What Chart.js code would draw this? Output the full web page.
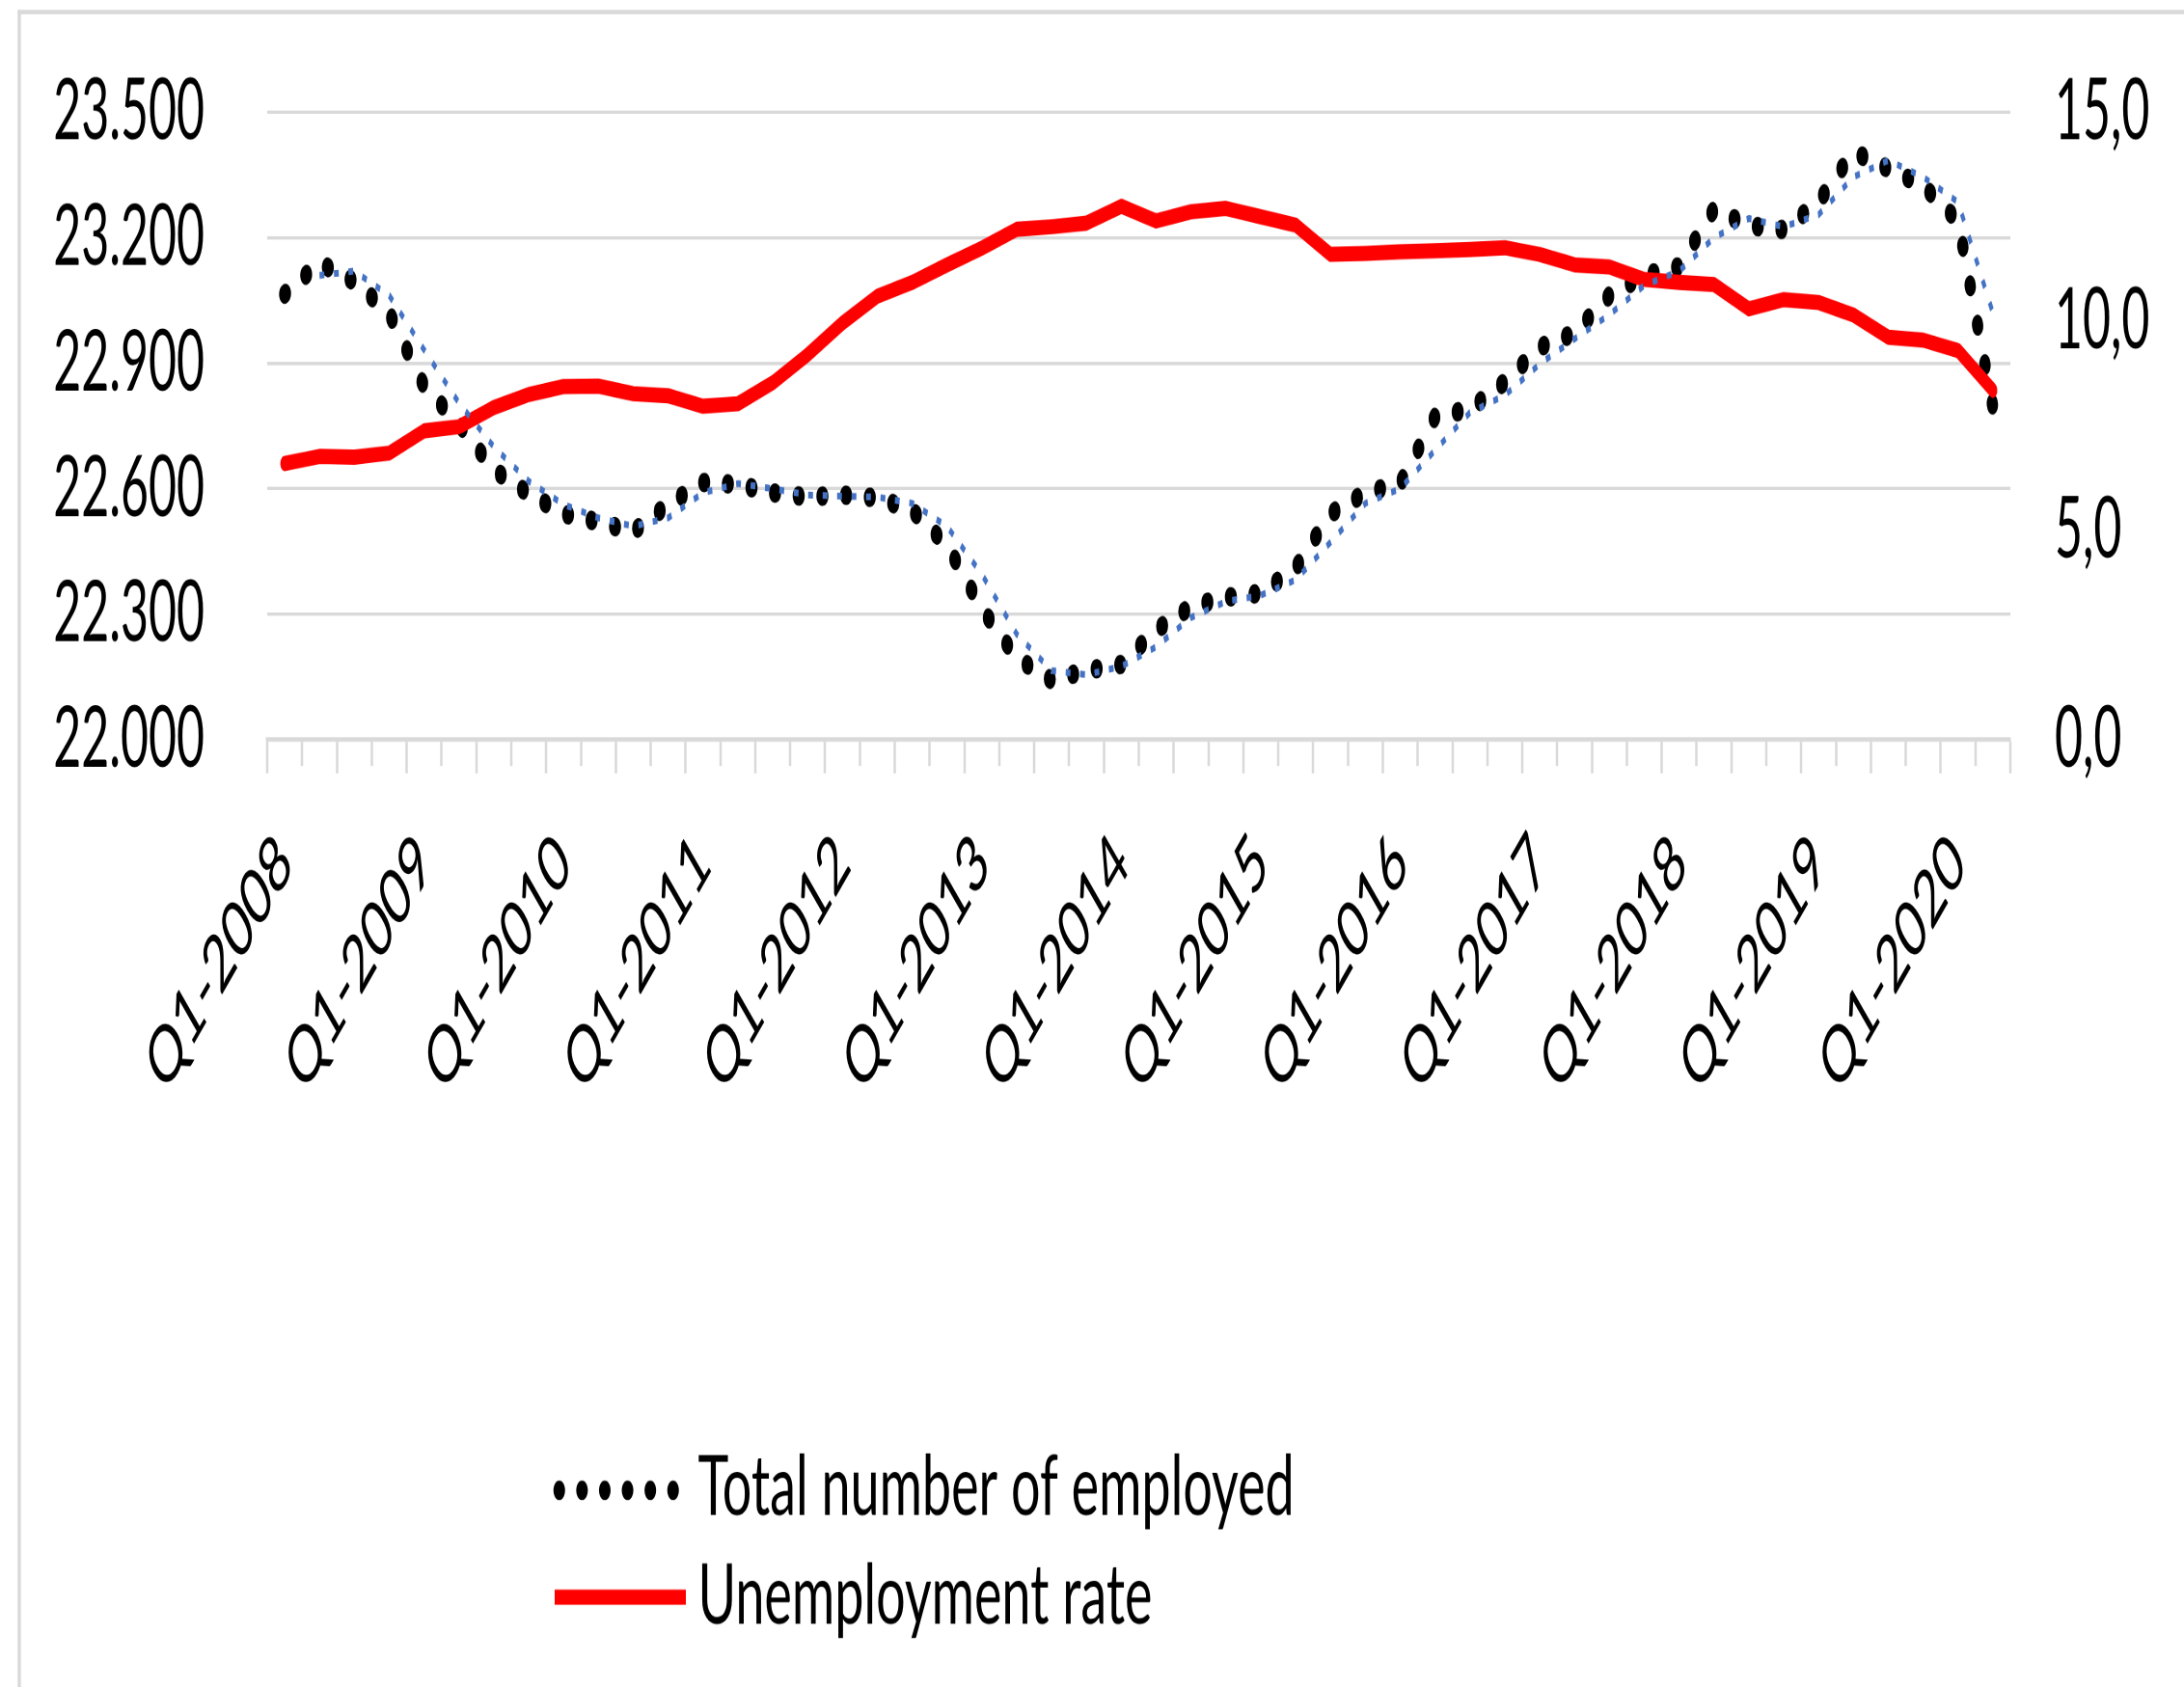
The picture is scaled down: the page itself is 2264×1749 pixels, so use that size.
<!DOCTYPE html>
<html>
<head>
<meta charset="utf-8">
<title>Employment and unemployment, Q1-2008 – Q2-2020</title>
<script src="https://cdn.jsdelivr.net/npm/chart.js@4.4.1/dist/chart.umd.min.js"></script>
<style>
  html, body { margin: 0; padding: 0; background: #ffffff; overflow: hidden; }
  /* the drawing is laid out on a 2264 x 1000 canvas and stretched to full height */
  #frame { position: absolute; left: 0; top: 0; width: 2264px; height: 1000px; transform: scaleY(1.749); transform-origin: 0 0; }
  #chart { display: block; }
</style>
</head>
<body>
<div id="frame"><canvas id="chart" width="2264" height="1000"></canvas></div>
<script>
// Quarter categories
const quarters = [
  'Q1-2008','Q2-2008','Q3-2008','Q4-2008',
  'Q1-2009','Q2-2009','Q3-2009','Q4-2009',
  'Q1-2010','Q2-2010','Q3-2010','Q4-2010',
  'Q1-2011','Q2-2011','Q3-2011','Q4-2011',
  'Q1-2012','Q2-2012','Q3-2012','Q4-2012',
  'Q1-2013','Q2-2013','Q3-2013','Q4-2013',
  'Q1-2014','Q2-2014','Q3-2014','Q4-2014',
  'Q1-2015','Q2-2015','Q3-2015','Q4-2015',
  'Q1-2016','Q2-2016','Q3-2016','Q4-2016',
  'Q1-2017','Q2-2017','Q3-2017','Q4-2017',
  'Q1-2018','Q2-2018','Q3-2018','Q4-2018',
  'Q1-2019','Q2-2019','Q3-2019','Q4-2019',
  'Q1-2020','Q2-2020'
];

// Total number of employed (thousands)
const employed = [
  23065, 23140, 23095, 23020, 22845, 22755, 22645, 22588, 22540, 22520,
  22497, 22562, 22615, 22610, 22590, 22580, 22585, 22578, 22548, 22465,
  22313, 22195, 22142, 22165, 22180, 22262, 22318, 22340, 22350, 22410,
  22540, 22590, 22612, 22772, 22790, 22855, 22938, 22972, 23062, 23110,
  23131, 23268, 23229, 23219, 23286, 23405, 23365, 23324, 23240, 22795
];

// Two-quarter moving average of employed (trend line, starts at the 2nd quarter)
const employedTrend = [
  null,  23110, 23120, 23062, 22932, 22805, 22700, 22618, 22562, 22530,
  22510, 22530, 22590, 22612, 22600, 22585, 22582, 22580, 22565, 22510,
  22395, 22252, 22165, 22155, 22175, 22222, 22292, 22330, 22345, 22382,
  22472, 22565, 22600, 22692, 22782, 22823, 22898, 22958, 23016, 23086,
  23120, 23200, 23246, 23226, 23255, 23345, 23385, 23345, 23285, 23020
];

// Unemployment rate (%)
const unemploymentRate = [
  6.6, 6.77, 6.75, 6.85, 7.38, 7.48, 7.94, 8.25, 8.44, 8.45,
  8.27, 8.22, 7.97, 8.03, 8.53, 9.2, 9.96, 10.6, 10.93, 11.35,
  11.75, 12.2, 12.26, 12.35, 12.75, 12.4, 12.62, 12.7, 12.5, 12.3,
  11.6, 11.62, 11.66, 11.69, 11.72, 11.76, 11.6, 11.35, 11.3, 11.0,
  10.93, 10.88, 10.3, 10.52, 10.45, 10.15, 9.62, 9.55, 9.3, 8.35
];

// Axis tick settings
const leftAxisMin = 22000, leftAxisMax = 23500, leftAxisStep = 300;
const rightAxisMin = 0, rightAxisMax = 15, rightAxisStep = 5;
const labelEvery = 4;

const seriesNames = ['Total number of employed', 'Unemployment rate', '2 per. Mov. Avg. (Total number of employed)'];

const CANVAS_W = 2264;
const CANVAS_H = 1000;
const GRID = '#d9d9d9';

function thousandsDot(v) {
  return String(Math.round(v)).replace(/\B(?=(\d{3})+(?!\d))/g, '.');
}
function decimalComma(v) {
  return Number(v).toFixed(1).replace('.', ',');
}

Chart.defaults.font.family = 'Lato';
Chart.defaults.color = '#000000';

// Outer frame and a two-row legend drawn beneath the axis labels
const frameAndLegend = {
  id: 'frameAndLegend',
  afterDraw(chart) {
    const ctx = chart.ctx;
    ctx.save();
    ctx.fillStyle = GRID;
    ctx.fillRect(18.3, 5.8, 3.4, CANVAS_H);
    ctx.fillRect(18.3, 5.8, CANVAS_W, 2.6);

    const rows = [
      { index: 0, y: 883.4, base: 898 },
      { index: 1, y: 946.8, base: 962.5 }
    ];
    rows.forEach(r => {
      const ds = chart.data.datasets[r.index];
      ctx.save();
      ctx.strokeStyle = ds.borderColor;
      ctx.lineWidth = ds.borderWidth;
      ctx.beginPath();
      if (ds.borderDash && ds.borderDash.length) {
        // six round dots
        ctx.lineCap = 'round';
        ctx.setLineDash([0.5, 23.1]);
        ctx.moveTo(579.5, r.y);
        ctx.lineTo(698.5, r.y);
      } else {
        ctx.lineCap = 'butt';
        ctx.moveTo(575, r.y);
        ctx.lineTo(711, r.y);
      }
      ctx.stroke();
      ctx.restore();

      ctx.save();
      ctx.fillStyle = '#000000';
      ctx.font = '49px Lato';
      ctx.textAlign = 'left';
      ctx.textBaseline = 'alphabetic';
      ctx.translate(723.5, r.base);
      ctx.scale(1.1, 1);
      ctx.fillText(ds.label, 0, 0);
      ctx.restore();
    });
    ctx.restore();
  }
};

new Chart(document.getElementById('chart'), {
  type: 'line',
  data: {
    labels: quarters,
    datasets: [
      {
        label: seriesNames[0],
        data: employed,
        yAxisID: 'y',
        borderColor: '#000000',
        borderWidth: 11.5,
        borderDash: [1, 23.6],
        borderCapStyle: 'round',
        borderJoinStyle: 'round',
        pointRadius: 0,
        tension: 0,
        fill: false,
        order: 2
      },
      {
        label: seriesNames[1],
        data: unemploymentRate,
        yAxisID: 'y1',
        borderColor: '#ff0000',
        borderWidth: 9,
        borderCapStyle: 'round',
        borderJoinStyle: 'round',
        pointRadius: 0,
        tension: 0,
        fill: false,
        order: 1
      },
      {
        label: seriesNames[2],
        data: employedTrend,
        yAxisID: 'y',
        borderColor: '#4472c4',
        borderWidth: 4,
        borderDash: [5, 10],
        borderCapStyle: 'butt',
        pointRadius: 0,
        tension: 0,
        fill: false,
        order: 0
      }
    ]
  },
  options: {
    responsive: false,
    maintainAspectRatio: false,
    devicePixelRatio: 2,
    animation: false,
    events: [],
    layout: { padding: { top: 66.5, left: 0, right: 0, bottom: 0 } },
    plugins: {
      legend: { display: false },
      tooltip: { enabled: false },
      title: { display: false }
    },
    scales: {
      x: {
        type: 'category',
        offset: true,
        afterFit(scale) { scale.height = CANVAS_H - 438.4; },
        grid: {
          offset: true,
          drawOnChartArea: false,
          drawTicks: true,
          tickLength: 20,
          tickWidth: 2.5,
          tickColor: GRID,
          tickBorderDash: (c) => (c.index % 2 === 1 ? [14.5, 200] : [])
        },
        border: { display: true, color: GRID, width: 2.6 },
        ticks: {
          autoSkip: false,
          minRotation: 45,
          maxRotation: 45,
          padding: 25,
          font: { size: 47 },
          color: '#000000',
          callback: (value, index) => (index % labelEvery === 0 ? quarters[index] : '')
        }
      },
      y: {
        position: 'left',
        min: leftAxisMin,
        max: leftAxisMax,
        afterFit(scale) { scale.width = 277; },
        // invisible tick marks keep the labels 65px away from the plot
        grid: { color: GRID, lineWidth: 2, drawTicks: true, tickLength: 65, tickColor: 'rgba(0,0,0,0)' },
        border: { display: false },
        ticks: {
          stepSize: leftAxisStep,
          padding: 0,
          font: { size: 50 },
          color: '#000000',
          callback: (v) => thousandsDot(v)
        }
      },
      y1: {
        position: 'right',
        min: rightAxisMin,
        max: rightAxisMax,
        afterFit(scale) { scale.width = 180; },
        grid: { display: true, drawOnChartArea: false, drawTicks: true, tickLength: 46, tickColor: 'rgba(0,0,0,0)' },
        border: { display: false },
        ticks: {
          stepSize: rightAxisStep,
          padding: 0,
          font: { size: 50 },
          color: '#000000',
          callback: (v) => decimalComma(v)
        }
      }
    }
  },
  plugins: [frameAndLegend]
});
</script>
</body>
</html>
